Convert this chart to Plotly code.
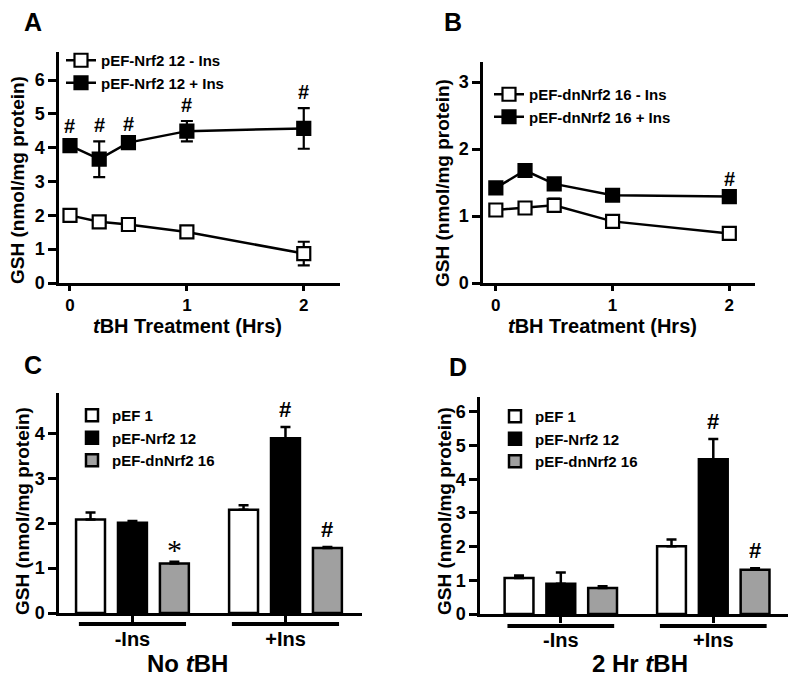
import plotly.graph_objects as go

# ---------------- data ----------------
time_hrs = [0, 0.25, 0.5, 1, 2]

a_minus_ins = [2.00, 1.81, 1.73, 1.51, 0.87]
a_minus_err = [0.08, 0.08, 0.08, 0.08, 0.35]
a_plus_ins = [4.06, 3.66, 4.15, 4.49, 4.57]
a_plus_err = [0.10, 0.53, 0.08, 0.30, 0.60]
a_sig = ["#", "#", "#", "#", "#"]

b_minus_ins = [1.09, 1.12, 1.16, 0.92, 0.74]
b_minus_err = [0.04, 0.04, 0.10, 0.04, 0.04]
b_plus_ins = [1.42, 1.68, 1.48, 1.31, 1.29]
b_plus_err = [0.04, 0.04, 0.04, 0.03, 0.03]
b_sig = ["", "", "", "", "#"]

groups = ["-Ins", "+Ins"]
bar_series = ["pEF 1", "pEF-Nrf2 12", "pEF-dnNrf2 16"]
bar_colors = ["white", "black", "#a0a0a0"]

c_values = [[2.08, 2.30], [2.01, 3.89], [1.10, 1.45]]
c_errs = [[0.16, 0.10], [0.04, 0.25], [0.04, 0.02]]
c_sig = [["", ""], ["", "#"], ["*", "#"]]

d_values = [[1.07, 2.01], [0.90, 4.59], [0.77, 1.31]]
d_errs = [[0.07, 0.20], [0.33, 0.60], [0.05, 0.05]]
d_sig = [["", ""], ["", "#"], ["", "#"]]

line_legend_a = ["pEF-Nrf2 12 - Ins", "pEF-Nrf2 12 + Ins"]
line_legend_b = ["pEF-dnNrf2 16 - Ins", "pEF-dnNrf2 16 + Ins"]

# ---------------- figure ----------------
W, H = 800, 681
FONT = "Liberation Sans, Arial, sans-serif"
BARGAP = 0.178
BARGROUPGAP = 0.31

fig = go.Figure()


def px_x(p):
    return p / W


def px_y(p):
    return 1 - p / H


def add_line_pair(xa, ya, legend, names, ys, errs):
    fills = ["white", "black"]
    for name, y, e, f in zip(names, ys, errs, fills):
        fig.add_trace(go.Scatter(
            x=time_hrs, y=y, name=name, mode="lines+markers",
            xaxis=xa, yaxis=ya, legend=legend,
            line=dict(color="black", width=2.5),
            marker=dict(symbol="square", size=13, color=f,
                        line=dict(color="black", width=2.2)),
            error_y=dict(type="data", array=e, visible=True,
                         color="black", thickness=2.2, width=6),
        ))


add_line_pair("x", "y", "legend", line_legend_a, [a_minus_ins, a_plus_ins], [a_minus_err, a_plus_err])
add_line_pair("x2", "y2", "legend2", line_legend_b, [b_minus_ins, b_plus_ins], [b_minus_err, b_plus_err])


def add_bars(xa, ya, legend, values, errs):
    for name, v, e, c in zip(bar_series, values, errs, bar_colors):
        fig.add_trace(go.Bar(
            x=list(range(len(groups))), y=v, name=name,
            xaxis=xa, yaxis=ya, legend=legend,
            marker=dict(color=c, line=dict(color="black", width=2.5)),
            error_y=dict(type="data", array=e, arrayminus=[0] * len(e),
                         symmetric=False, visible=True,
                         color="black", thickness=2.5, width=5),
        ))


add_bars("x3", "y3", "legend3", c_values, c_errs)
add_bars("x4", "y4", "legend4", d_values, d_errs)

annotations = []

# significance marks on line panels
for xs, ys, es, sig, xr, yr in [
    (time_hrs, a_plus_ins, a_plus_err, a_sig, "x", "y"),
    (time_hrs, b_plus_ins, b_plus_err, b_sig, "x2", "y2"),
]:
    for xv, yv, ev, s in zip(xs, ys, es, sig):
        if s:
            annotations.append(dict(
                x=xv, y=yv + ev, xref=xr, yref=yr, text=s, showarrow=False,
                xanchor="center", yanchor="bottom", yshift=3,
                font=dict(size=20, family=FONT)))

# significance marks on bar panels
slot = (1 - BARGAP) / len(bar_series)
for vals, errs, sigs, xr, yr in [
    (c_values, c_errs, c_sig, "x3", "y3"),
    (d_values, d_errs, d_sig, "x4", "y4"),
]:
    for i in range(len(bar_series)):
        for g in range(len(groups)):
            s = sigs[i][g]
            if s:
                annotations.append(dict(
                    x=g + (i - 1) * slot, y=vals[i][g] + errs[i][g],
                    xref=xr, yref=yr, text=s, showarrow=False,
                    xanchor="center", yanchor="bottom",
                    yshift=3 if s == "#" else -6,
                    font=dict(size=22 if s == "#" else 30,
                              family=FONT if s == "#" else "Liberation Serif, serif",
                              weight="normal" if s == "*" else "bold")))

# panel letters
for txt, x, y in [("A", 33, 22), ("B", 453, 22), ("C", 33, 365), ("D", 458, 367)]:
    annotations.append(dict(x=px_x(x), y=px_y(y), xref="paper", yref="paper",
                            xanchor="center", yanchor="middle",
                            text=txt, showarrow=False, font=dict(size=25, family=FONT)))

# y titles
for x, y in [(17, 180), (443, 183), (23, 511), (445, 511)]:
    annotations.append(dict(x=px_x(x), y=px_y(y), xref="paper", yref="paper",
                            xanchor="center", yanchor="middle",
                            text="GSH (nmol/mg protein)", textangle=-90, showarrow=False,
                            font=dict(size=19, family=FONT)))

# x titles
for txt, x, y, s in [("<i>t</i>BH Treatment (Hrs)", 187, 326, 20),
                     ("<i>t</i>BH Treatment (Hrs)", 602, 326, 20),
                     ("No <i>t</i>BH", 187, 663, 24),
                     ("2 Hr <i>t</i>BH", 640, 663, 24)]:
    annotations.append(dict(x=px_x(x), y=px_y(y), xref="paper", yref="paper",
                            xanchor="center", yanchor="middle",
                            text=txt, showarrow=False, font=dict(size=s, family=FONT)))

# group underline bars
shapes = []
for xr, yr, yoff in [("x3", "y3 domain", -0.05), ("x4", "y4 domain", -0.055)]:
    for g in range(len(groups)):
        shapes.append(dict(type="line", xref=xr, yref=yr, x0=g - 0.35, x1=g + 0.35,
                           y0=yoff, y1=yoff, line=dict(color="black", width=4)))

axis_common = dict(showline=True, linecolor="black", linewidth=2.5, showgrid=False,
                   zeroline=False, ticks="outside", tickcolor="black", tickwidth=2.5,
                   automargin=False)
tick_num = dict(size=18, family=FONT, color="black", weight="bold")
tick_x = dict(size=17, family=FONT, color="black", weight="bold")
tick_cat = dict(size=20, family=FONT, color="black", weight="bold")

legend_common = dict(bgcolor="rgba(0,0,0,0)", font=dict(size=15, family=FONT, color="black", weight="bold"),
                     xanchor="left", yanchor="top", tracegroupgap=0, itemsizing="trace")

fig.update_layout(
    width=W, height=H,
    margin=dict(l=0, r=0, t=0, b=0),
    paper_bgcolor="white", plot_bgcolor="white",
    font=dict(family=FONT, color="black", weight="bold"),
    barmode="group", bargap=BARGAP, bargroupgap=BARGROUPGAP,
    xaxis=dict(domain=[px_x(59), px_x(340)], anchor="y", range=[-0.094, 2.31],
               tickvals=[0, 1, 2], ticklen=5, tickfont=tick_x, **axis_common),
    yaxis=dict(domain=[px_y(283), px_y(52)], anchor="x", range=[0, 6.83],
               dtick=1, ticklen=8, tickfont=tick_num, **axis_common),
    xaxis2=dict(domain=[px_x(483), px_x(755)], anchor="y2", range=[-0.11, 2.22],
                tickvals=[0, 1, 2], ticklen=5, tickfont=tick_x, **axis_common),
    yaxis2=dict(domain=[px_y(283), px_y(62)], anchor="x2", range=[0, 3.3],
                dtick=1, ticklen=8, tickfont=tick_num, **axis_common),
    xaxis3=dict(domain=[px_x(59), px_x(362)], anchor="y3", range=[-0.48, 1.5],
                tickvals=[0, 1], ticktext=groups, ticklen=6, ticklabelstandoff=0,
                tickfont=tick_cat, **axis_common),
    yaxis3=dict(domain=[px_y(613), px_y(393)], anchor="x3", range=[0, 4.9],
                dtick=1, ticklen=8, tickfont=tick_num, **axis_common),
    xaxis4=dict(domain=[px_x(480), px_x(788)], anchor="y4", range=[-0.53, 1.49],
                tickvals=[0, 1], ticktext=groups, ticklen=6, ticklabelstandoff=0,
                tickfont=tick_cat, **axis_common),
    yaxis4=dict(domain=[px_y(614), px_y(397)], anchor="x4", range=[0, 6.44],
                dtick=1, ticklen=8, tickfont=tick_num, **axis_common),
    legend=dict(x=px_x(61), y=px_y(44), **legend_common),
    legend2=dict(x=px_x(489), y=px_y(78), **legend_common),
    legend3=dict(x=px_x(72), y=px_y(399), **legend_common),
    legend4=dict(x=px_x(495), y=px_y(400), **legend_common),
    annotations=annotations,
    shapes=shapes,
    showlegend=True,
)

fig.write_html("out.html", config={"displayModeBar": False},
               post_script="document.body.style.margin='0px';")
